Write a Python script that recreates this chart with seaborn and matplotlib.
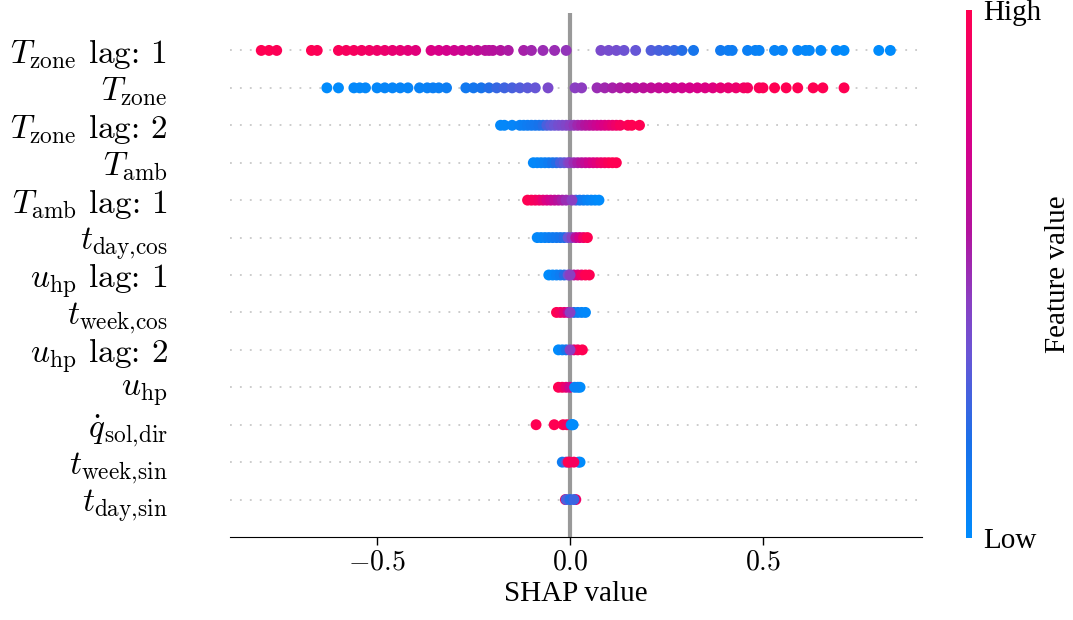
import numpy as np
import pandas as pd
import matplotlib
matplotlib.use("Agg")
import matplotlib.pyplot as plt
from matplotlib.colors import LinearSegmentedColormap, Normalize
from matplotlib.cm import ScalarMappable
import seaborn as sns

# feature labels, top to bottom
features = [
    r"$T_{\mathrm{zone}}$ lag: 1", r"$T_{\mathrm{zone}}$", r"$T_{\mathrm{zone}}$ lag: 2",
    r"$T_{\mathrm{amb}}$", r"$T_{\mathrm{amb}}$ lag: 1", r"$t_{\mathrm{day{,}cos}}$",
    r"$u_{\mathrm{hp}}$ lag: 1", r"$t_{\mathrm{week{,}cos}}$", r"$u_{\mathrm{hp}}$ lag: 2",
    r"$u_{\mathrm{hp}}$", r"$\dot{q}_{\mathrm{sol{,}dir}}$", r"$t_{\mathrm{week{,}sin}}$",
    r"$t_{\mathrm{day{,}sin}}$",
]

# SHAP values and (normalised) feature values
tzone_lag1_shap = [-0.80, -0.78, -0.76, -0.67, -0.655, -0.60, -0.58, -0.56, -0.54, -0.52, -0.50, -0.48,
                   -0.46, -0.44, -0.42, -0.40, -0.36, -0.34, -0.32, -0.30, -0.28, -0.26, -0.24, -0.22,
                   -0.21, -0.20, -0.18, -0.16, -0.12, -0.10, -0.07, -0.04, -0.01,
                   0.08, 0.10, 0.12, 0.14, 0.17, 0.21, 0.23, 0.25, 0.27, 0.29, 0.32, 0.39, 0.41, 0.42,
                   0.46, 0.48, 0.49, 0.53, 0.55, 0.59, 0.61, 0.62, 0.65, 0.69, 0.71, 0.80, 0.83]
tzone_lag1_val = [1.0, 1.0, 0.98, 1.0, 0.98, 0.97, 0.95, 0.95, 0.93, 0.92, 0.90, 0.88,
                  0.86, 0.85, 0.83, 0.82, 0.78, 0.76, 0.74, 0.72, 0.70, 0.68, 0.65, 0.62,
                  0.60, 0.60, 0.58, 0.56, 0.54, 0.52, 0.50, 0.50, 0.48,
                  0.40, 0.39, 0.38, 0.36, 0.34, 0.30, 0.28, 0.26, 0.24, 0.20, 0.15, 0.12, 0.10, 0.10,
                  0.08, 0.07, 0.06, 0.05, 0.05, 0.04, 0.03, 0.03, 0.02, 0.02, 0.01, 0.0, 0.0]

tzone_shap = [-0.63, -0.60, -0.56, -0.545, -0.53, -0.50, -0.48, -0.46, -0.44, -0.42, -0.39, -0.37,
              -0.355, -0.34, -0.32, -0.27, -0.25, -0.23, -0.21, -0.19, -0.17, -0.15, -0.13, -0.11,
              -0.09, -0.057, 0.013, 0.03, 0.07, 0.09, 0.11, 0.13, 0.15, 0.17, 0.19, 0.21, 0.23,
              0.25, 0.27, 0.29, 0.31, 0.33, 0.35, 0.37, 0.39, 0.41, 0.43, 0.45, 0.46, 0.49, 0.50,
              0.53, 0.56, 0.59, 0.63, 0.655, 0.71]
tzone_val = [0.0, 0.0, 0.02, 0.02, 0.03, 0.03, 0.04, 0.04, 0.05, 0.05, 0.06, 0.07,
             0.08, 0.08, 0.09, 0.12, 0.14, 0.16, 0.20, 0.24, 0.26, 0.28, 0.30, 0.32,
             0.34, 0.40, 0.45, 0.46, 0.50, 0.52, 0.54, 0.56, 0.58, 0.60, 0.62, 0.64, 0.66,
             0.68, 0.70, 0.72, 0.74, 0.76, 0.78, 0.80, 0.84, 0.86, 0.88, 0.92, 0.94, 0.97, 0.98,
             1.0, 1.0, 1.0, 1.0, 1.0, 1.0]

tzone_lag2_shap = [-0.18, -0.17, -0.15, -0.13, -0.12, -0.11, -0.10, -0.09, -0.08, -0.07, -0.06,
                   -0.05, -0.04, -0.03, -0.02, -0.01, 0.0, 0.01, 0.02, 0.03, 0.04, 0.05, 0.06,
                   0.07, 0.08, 0.09, 0.10, 0.11, 0.12, 0.13, 0.15, 0.16, 0.18]
tzone_lag2_val = [0.02, 0.03, 0.04, 0.06, 0.08, 0.10, 0.12, 0.14, 0.16, 0.20, 0.28,
                  0.32, 0.35, 0.38, 0.40, 0.42, 0.45, 0.48, 0.52, 0.55, 0.58, 0.62, 0.66,
                  0.70, 0.74, 0.78, 0.82, 0.86, 0.90, 0.95, 0.98, 1.0, 1.0]

tamb_shap = [-0.095, -0.085, -0.075, -0.065, -0.055, -0.045, -0.035, -0.025, -0.015, -0.005, 0.0,
             0.01, 0.02, 0.03, 0.04, 0.05, 0.06, 0.07, 0.08, 0.09, 0.10, 0.11, 0.12]
tamb_val = [0.02, 0.03, 0.05, 0.07, 0.10, 0.15, 0.20, 0.28, 0.33, 0.40, 0.45,
            0.50, 0.55, 0.60, 0.66, 0.72, 0.78, 0.82, 0.88, 0.93, 0.97, 1.0, 1.0]

tamb_lag1_shap = [-0.11, -0.10, -0.09, -0.08, -0.07, -0.06, -0.05, -0.04, -0.03, -0.02, -0.01,
                  0.015, 0.025, 0.035, 0.045, 0.055, 0.065, 0.075, 0.005]
tamb_lag1_val = [1.0, 0.98, 0.95, 0.92, 0.85, 0.78, 0.72, 0.66, 0.60, 0.55, 0.50,
                 0.30, 0.15, 0.10, 0.06, 0.04, 0.02, 0.0, 0.45]

tday_cos_shap = [-0.085, -0.075, -0.065, -0.055, -0.045, -0.035, -0.025, -0.015, -0.005,
                 0.005, 0.015, 0.025, 0.035, 0.045]
tday_cos_val = [0.02, 0.03, 0.05, 0.08, 0.10, 0.12, 0.15, 0.20, 0.35, 0.45, 0.60, 0.75, 0.90, 1.0]

uhp_lag1_shap = [-0.055, -0.045, -0.035, -0.025, -0.015, -0.005, 0.01, 0.02, 0.03, 0.04, 0.05, 0.0]
uhp_lag1_val = [0.0, 0.03, 0.06, 0.10, 0.20, 0.35, 0.60, 0.80, 0.90, 1.0, 1.0, 0.45]

tweek_cos_shap = [-0.035, -0.025, -0.015, -0.005, 0.01, 0.02, 0.03, 0.04, 0.0]
tweek_cos_val = [1.0, 0.95, 0.85, 0.70, 0.20, 0.10, 0.05, 0.02, 0.45]

uhp_lag2_shap = [-0.03, -0.02, -0.01, 0.01, 0.02, 0.032, 0.0]
uhp_lag2_val = [0.0, 0.05, 0.15, 0.80, 0.95, 1.0, 0.45]

uhp_shap = [-0.03, -0.02, -0.01, 0.0, 0.02, 0.026, 0.012]
uhp_val = [1.0, 0.95, 0.85, 0.70, 0.0, 0.0, 0.05]

qsol_shap = [-0.088, -0.041, -0.018, -0.008, 0.003, 0.008, 0.006]
qsol_val = [1.0, 1.0, 1.0, 0.95, 0.05, 0.02, 0.0]

tweek_sin_shap = [-0.02, -0.01, 0.022, 0.026, 0.0, -0.005, 0.01]
tweek_sin_val = [0.10, 0.30, 0.05, 0.0, 0.95, 1.0, 0.95]

tday_sin_shap = [-0.012, 0.015, -0.01, 0.0, 0.01]
tday_sin_val = [1.0, 0.90, 0.30, 0.20, 0.25]

shap_rows = [tzone_lag1_shap, tzone_shap, tzone_lag2_shap, tamb_shap, tamb_lag1_shap, tday_cos_shap,
             uhp_lag1_shap, tweek_cos_shap, uhp_lag2_shap, uhp_shap, qsol_shap, tweek_sin_shap,
             tday_sin_shap]
val_rows = [tzone_lag1_val, tzone_val, tzone_lag2_val, tamb_val, tamb_lag1_val, tday_cos_val,
            uhp_lag1_val, tweek_cos_val, uhp_lag2_val, uhp_val, qsol_val, tweek_sin_val,
            tday_sin_val]

xticks = [-0.5, 0.0, 0.5]
xtick_labels = [r"$-0.5$", r"$0.0$", r"$0.5$"]

n = len(features)
frames = []
for i, (s, v) in enumerate(zip(shap_rows, val_rows)):
    frames.append(pd.DataFrame({"shap": s, "value": v, "row": n - 1 - i}))
df = pd.concat(frames, ignore_index=True)

sns.set_style("white")
plt.rcParams["mathtext.fontset"] = "cm"
plt.rcParams["font.family"] = ["Liberation Serif", "DejaVu Serif"]
plt.rcParams["text.color"] = "black"
plt.rcParams["axes.labelcolor"] = "black"
plt.rcParams["xtick.color"] = "black"
plt.rcParams["ytick.color"] = "black"

red_blue = LinearSegmentedColormap.from_list(
    "red_blue",
    [(0.0, "#008bfc"), (0.18, "#1a70e9"), (0.35, "#6a55d5"), (0.45, "#8a3fc2"),
     (0.58, "#b2139e"), (0.75, "#d6008a"), (1.0, "#ff0052")],
)

fig = plt.figure(figsize=(10.73, 6.2), dpi=100)
ax = fig.add_axes([230 / 1073, 83 / 620, 692 / 1073, 524 / 620])

ax.axvline(0, color="#999999", lw=3, zorder=-1)
for r in range(n):
    ax.axhline(r, color="#c8c8c8", lw=1.3, dashes=(1, 4.5), zorder=-2)

sns.scatterplot(data=df, x="shap", y="row", hue="value", palette=red_blue, hue_norm=(0, 1),
                s=62, linewidth=0, alpha=1, legend=False, ax=ax)

ax.set_xlim(-0.881, 0.912)
ax.set_ylim(-1, n)
ax.set_yticks(range(n - 1, -1, -1))
ax.set_yticklabels(features, fontsize=24, fontfamily="cmr10")
ax.tick_params(axis="y", length=0, pad=45)
ax.set_xticks(xticks)
ax.set_xticklabels(xtick_labels, fontsize=20)
ax.tick_params(axis="x", direction="out", length=6, width=1, color="black", bottom=True)
ax.set_xlabel("SHAP value", fontsize=21, fontfamily="Liberation Serif")
ax.set_ylabel("")
for side in ["top", "right", "left"]:
    ax.spines[side].set_visible(False)
ax.spines["bottom"].set_color("black")

cax = fig.add_axes([966 / 1073, 82 / 620, 6 / 1073, 528 / 620])
cb = fig.colorbar(ScalarMappable(norm=Normalize(0, 1), cmap=red_blue), cax=cax, ticks=[0, 1])
cb.set_ticklabels(["Low", "High"], fontfamily="Liberation Serif")
cb.ax.tick_params(length=0, labelsize=21, pad=8)
cb.outline.set_visible(False)
cb.set_label("Feature value", fontsize=21, labelpad=3, fontfamily="Liberation Serif")

fig.savefig("out.png", dpi=100)
